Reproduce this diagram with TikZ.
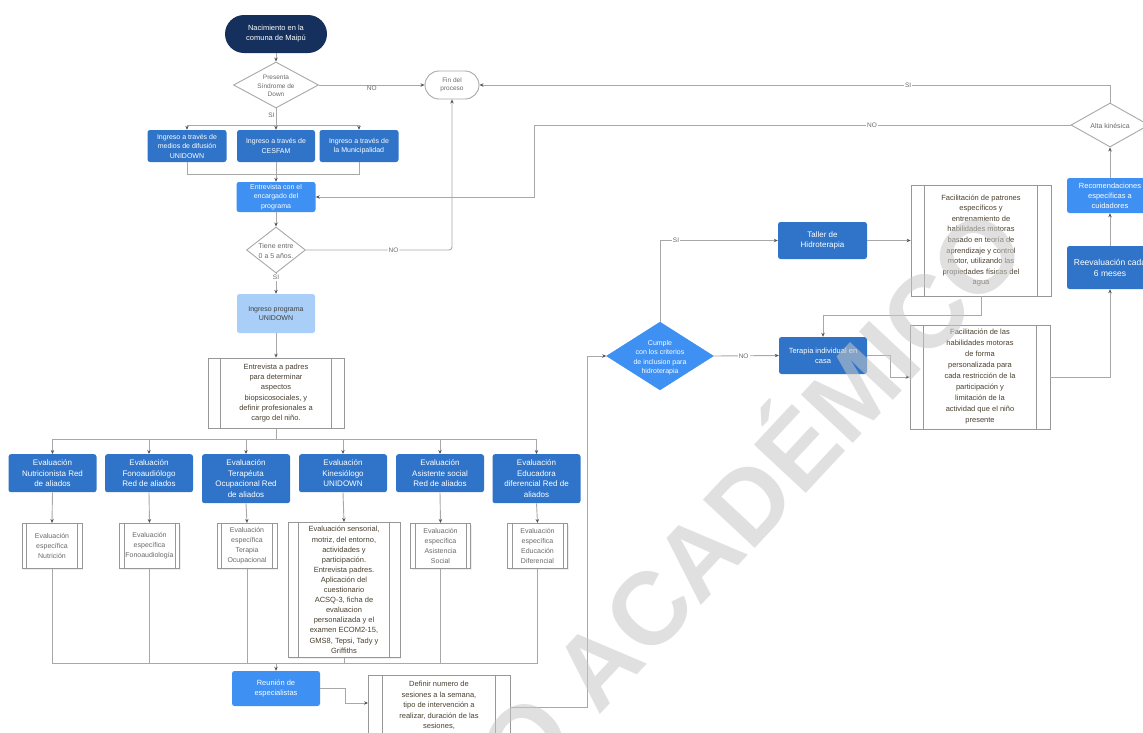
\documentclass[tikz,border=0pt]{standalone}
\usepackage{fontspec}
\setmainfont{Liberation Sans}
\usetikzlibrary{shapes.geometric,arrows.meta,calc,shadows}
\definecolor{cNavy}{HTML}{15305C}
\definecolor{cBlue}{HTML}{2F74C8}
\definecolor{cBright}{HTML}{3E90F2}
\definecolor{cLight}{HTML}{A9CFF8}
\definecolor{cLine}{HTML}{A8A8A8}
\definecolor{cTip}{HTML}{555555}
\definecolor{cBrown}{HTML}{4A4030}
\definecolor{cGrayT}{HTML}{6A6A6A}
\definecolor{cWm}{HTML}{C8C8C8}
\newcommand\zbox[1]{\makebox[0pt]{\raisebox{-0.5\height}[0pt][0pt]{\begin{tabular}[b]{@{}c@{}}#1\end{tabular}}}}
\newcommand\inlines[2]{\draw[draw=cLine!90!black, line width=0.6pt] ([xshift=#2]#1.north west) -- ([xshift=#2]#1.south west) ([xshift=-#2]#1.north east) -- ([xshift=-#2]#1.south east);}
\tikzset{
 ln/.style={draw=cLine, line width=0.9pt},
 arr/.style={ln, -{Stealth[length=4pt,width=3.4pt,color=cTip]}},
 basetxt/.style={align=center, inner sep=1pt, font=\fontsize{7.5}{10}\selectfont},
 bluebox/.style={basetxt, fill=cBlue, text=white, rounded corners=2.5},
 brightbox/.style={basetxt, fill=cBright, text=white, rounded corners=2.5},
 procbox/.style={basetxt, draw=cLine!90!black, fill=white, text=cBrown, line width=0.7pt, drop shadow={opacity=0.12, shadow xshift=1.2pt, shadow yshift=-1.2pt}},
 diam/.style={diamond, draw=cLine, fill=white, inner sep=0pt, line width=0.9pt, text=cGrayT, font=\fontsize{6.5}{8.8}\selectfont},
 lbl/.style={fill=white, inner sep=1pt, text=cGrayT, font=\fontsize{6.5}{8}\selectfont},
}
\begin{document}
\begin{tikzpicture}[x=1pt,y=-1pt]
\useasboundingbox (0,0) rectangle (1143,732);
\clip (0,0) rectangle (1143,732);
\fill[white] (0,0) rectangle (1143,732);

% top column
\node[basetxt, fill=cNavy, text=white, rounded corners=19, minimum width=102, minimum height=38] (start) at (276,34) {Nacimiento en la\\comuna de Maipú};
\node[diam, minimum width=85, minimum height=46] (d1) at (276,85) {\zbox{Presenta\\Síndrome de\\Down}};
\node[basetxt, draw=cLine, line width=0.9pt, fill=white, text=cGrayT, rounded corners=14, minimum width=54, minimum height=28, font=\fontsize{6.5}{8.5}\selectfont] (fin) at (452,85) {Fin del\\proceso};

\node[bluebox, minimum width=79, minimum height=32, font=\fontsize{7}{9.5}\selectfont] (i1) at (187,146) {Ingreso a través de\\medios de difusión\\UNIDOWN};
\node[bluebox, minimum width=78, minimum height=32, font=\fontsize{7}{9.5}\selectfont] (i2) at (276,146) {Ingreso a través de\\CESFAM};
\node[bluebox, minimum width=79, minimum height=32, font=\fontsize{7}{9.5}\selectfont] (i3) at (359,146) {Ingreso a través de\\la Municipalidad};

\node[brightbox, minimum width=79, minimum height=30, font=\fontsize{7}{9.5}\selectfont] (enc) at (276,197) {Entrevista con el\\encargado del\\programa};
\node[diam, minimum width=59, minimum height=46, font=\fontsize{7}{9.5}\selectfont] (d2) at (276,250) {\zbox{Tiene entre\\0 a 5 años.}};
\node[basetxt, fill=cLight, text=black!75, rounded corners=2.5, minimum width=78, minimum height=39, font=\fontsize{7}{9.5}\selectfont] (prog) at (276,313.5) {Ingreso programa\\UNIDOWN};
\node[procbox, minimum width=136, minimum height=70, font=\fontsize{7.5}{10.2}\selectfont] (padres) at (276,393) {Entrevista a padres\\para determinar\\aspectos\\biopsicosociales, y\\definir profesionales a\\cargo del niño.};
\inlines{padres}{13}

% evaluations
\tikzset{ev/.style={bluebox, anchor=north, minimum width=88, minimum height=38, font=\fontsize{8}{10.7}\selectfont}}
\node[ev] (e1) at (52.5,454) {Evaluación\\Nutricionista Red\\de aliados};
\node[ev] (e2) at (149,454) {Evaluación\\Fonoaudiólogo\\Red de aliados};
\node[ev, minimum height=49] (e3) at (246,454) {Evaluación\\Terapéuta\\Ocupacional Red\\de aliados};
\node[ev] (e4) at (343,454) {Evaluación\\Kinesiólogo\\UNIDOWN};
\node[ev] (e5) at (440,454) {Evaluación\\Asistente social\\Red de aliados};
\node[ev, minimum height=49] (e6) at (536.5,454) {Evaluación\\Educadora\\diferencial Red de\\aliados};

\tikzset{sb/.style={procbox, anchor=north, text=cGrayT, minimum width=60, minimum height=45, font=\fontsize{7}{10}\selectfont}}
\node[sb] (s1) at (52,523) {Evaluación\\específica\\Nutrición};
\node[sb] (s2) at (149.5,523) {Evaluación\\específica\\Fonoaudiología};
\node[sb] (s3) at (247,523) {Evaluación\\específica\\Terapia\\Ocupacional};
\node[procbox, anchor=north, minimum width=112, minimum height=135, font=\fontsize{7.5}{10.1}\selectfont] (s4) at (344,522) {Evaluación sensorial,\\motriz, del entorno,\\actividades y\\participación.\\Entrevista padres.\\Aplicación del\\cuestionario\\ACSQ-3, ficha de\\evaluacion\\personalizada y el\\examen ECOM2-15,\\GMS8, Tepsi, Tady y\\Griffiths};
\node[sb] (s5) at (440.5,523) {Evaluación\\específica\\Asistencia\\Social};
\node[sb] (s6) at (537.5,523) {Evaluación\\específica\\Educación\\Diferencial};
\inlines{s1}{5}\inlines{s2}{5}\inlines{s3}{5}\inlines{s4}{11}\inlines{s5}{5}\inlines{s6}{5}

\node[brightbox, minimum width=88, minimum height=35] (reun) at (276,688.5) {Reunión de\\especialistas};
\node[procbox, anchor=north, minimum width=142, minimum height=60, font=\fontsize{7.5}{10.5}\selectfont] (defin) at (439,675) {Definir numero de\\sesiones a la semana,\\tipo de intervención a\\realizar, duración de las\\sesiones,};
\inlines{defin}{15}

% right part
\node[diamond, fill=cBright, draw=cBright, inner sep=0pt, minimum width=107, minimum height=68, text=white, font=\fontsize{7}{9.5}\selectfont] (cumple) at (660,356) {\zbox{Cumple\\con los criterios\\de inclusion para\\hidroterapia}};
\node[bluebox, minimum width=89, minimum height=37, font=\fontsize{8}{10.5}\selectfont] (taller) at (822.5,240.5) {Taller de\\Hidroterapia};
\node[procbox, minimum width=140, minimum height=111, font=\fontsize{7.5}{10.6}\selectfont] (fac1) at (981,240.5) {Facilitación de patrones\\específicos y\\entrenamiento de\\habilidades motoras\\basado en teoría de\\aprendizaje y control\\motor, utilizando las\\propiedades físicas del\\agua};
\inlines{fac1}{14}
\node[bluebox, minimum width=88, minimum height=37] (terapia) at (823,355.5) {Terapia individual en\\casa};
\node[procbox, minimum width=140, minimum height=104, font=\fontsize{7.5}{11}\selectfont] (fac2) at (980,377) {Facilitación de las\\habilidades motoras\\de forma\\personalizada para\\cada restricción de la\\participación y\\limitación de la\\actividad que el niño\\presente};
\inlines{fac2}{14}
\node[bluebox, minimum width=86, minimum height=43, font=\fontsize{8.5}{11}\selectfont] (reev) at (1110,267.5) {Reevaluación cada\\6 meses};
\node[brightbox, minimum width=86, minimum height=35] (recom) at (1110,195.5) {Recomendaciones\\específicas a\\cuidadores};
\node[diam, minimum width=78, minimum height=44, font=\fontsize{7}{9}\selectfont] (alta) at (1110,125) {\zbox{Alta kinésica}};

% helper coordinates
\coordinate (b1) at (276,125);
\coordinate (b2) at (276,174);
\coordinate (b3) at (276,439);
\coordinate (b4) at (276,663);
\coordinate (dIn) at (368,703);
\coordinate (dOut) at (510,707);

% connectors
\draw[arr] (start) -- (d1);
\draw[arr] (d1.east) -- node[lbl, fill=none, below=0pt, pos=0.5]{NO} (fin.west);
\draw[ln] (d1.south) -- node[lbl, fill=none, left=0pt, pos=0.4]{SI} (b1);
\draw[arr] (b1) -| (i1.north);
\draw[arr] (b1) -- (i2.north);
\draw[arr] (b1) -| (i3.north);
\draw[ln] (i1.south) |- (b2);
\draw[ln] (i3.south) |- (b2);
\draw[ln] (i2.south) -- (b2);
\draw[arr] (b2) -- (enc.north);
\draw[arr] (enc.south) -- (d2.north);
\draw[arr, rounded corners=3] (d2.east) -| node[lbl, pos=0.3]{NO} (fin.south);
\draw[arr] (d2.south) -- node[lbl, pos=0.2]{SI} (prog.north);
\draw[arr] (prog.south) -- (padres.north);
\draw[ln] (padres.south) -- (b3);
\foreach \e in {e1,e2,e3,e4,e5,e6} {\draw[arr] (b3) -| (\e.north);}
\draw[arr] (e1.south) -- (s1.north);
\draw[arr] (e2.south) -- (s2.north);
\draw[arr] (e3.south) -- (s3.north);
\draw[arr] (e4.south) -- (s4.north);
\draw[arr] (e5.south) -- (s5.north);
\draw[arr] (e6.south) -- (s6.north);
\foreach \s in {s1,s2,s3,s4,s5,s6} {\draw[ln] (\s.south) |- (b4);}
\draw[arr] (b4) -- (reun.north);
\draw[arr] (reun.east) -| (345,703) -- (dIn);
\draw[arr] (dOut) -- (587,707) |- (cumple.west);
\draw[arr] (cumple.north) |- node[lbl, pos=0.568]{SI} (taller.west);
\draw[arr] (cumple.east) -- node[lbl, pos=0.46]{NO} (terapia.west);
\draw[arr] (taller.east) -- (fac1.west);
\draw[arr] (fac1.south) -- (981,315) -| (terapia.north);
\draw[arr] (terapia.east) -- (890,355.5) |- (fac2.west);
\draw[arr] (fac2.east) -| (reev.south);
\draw[arr] (reev.north) -- (recom.south);
\draw[arr] (recom.north) -- (alta.south);
\draw[arr] (alta.north) |- node[lbl, pos=0.66]{SI} (fin.east);
\draw[arr] (alta.west) -- node[lbl, pos=0.37]{NO} (534,125) |- (enc.east);

% watermark
\node[font=\fontsize{103}{103}\selectfont\bfseries, text=cWm, text opacity=0.55, rotate=47, inner sep=0pt] (wm) at (745,493) {O ACADÉMICO};
\end{tikzpicture}
\end{document}
